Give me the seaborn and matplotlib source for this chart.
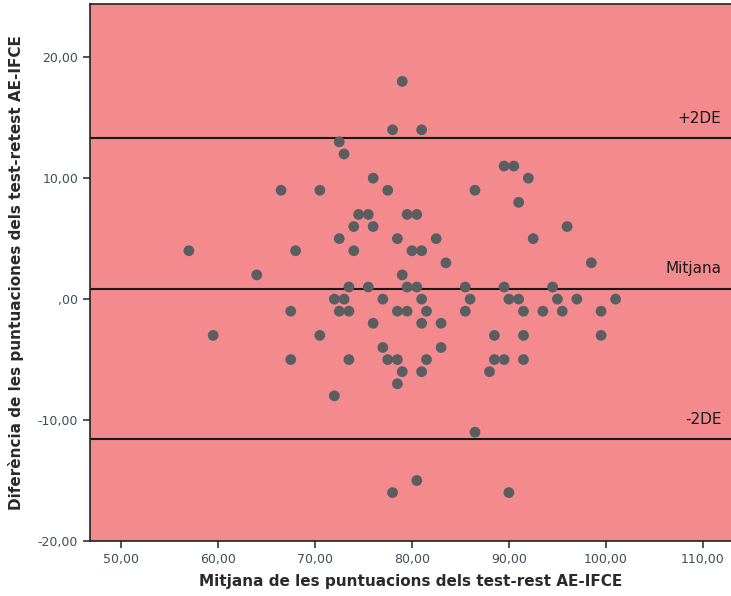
import matplotlib
matplotlib.use('Agg')
import matplotlib.pyplot as plt
import numpy as np
import pandas as pd
import seaborn as sns

# Bland-Altman points, grouped by difference value (y) -> list of means (x)
diff_values = [18, 14, 13, 12, 11, 10, 9, 8, 7, 6, 5, 4, 3, 2, 1, 0,
               -1, -2, -3, -4, -5, -6, -7, -8, -11, -15, -16]
mean_groups = [
    [79],
    [78, 81],
    [72.5],
    [73],
    [89.5, 90.5],
    [76, 92],
    [66.5, 70.5, 77.5, 86.5],
    [91],
    [74.5, 75.5, 79.5, 80.5],
    [74, 76, 96],
    [72.5, 78.5, 82.5, 92.5],
    [57, 68, 74, 80, 81],
    [83.5, 98.5],
    [64, 79],
    [73.5, 75.5, 79.5, 80.5, 85.5, 89.5, 94.5],
    [72, 73, 77, 81, 86, 90, 91, 95, 97, 101],
    [67.5, 72.5, 73.5, 78.5, 79.5, 81.5, 85.5, 91.5, 93.5, 95.5, 99.5],
    [76, 81, 83],
    [59.5, 70.5, 88.5, 91.5, 99.5],
    [77, 83],
    [67.5, 73.5, 77.5, 78.5, 81.5, 88.5, 89.5, 91.5],
    [79, 81, 88],
    [78.5],
    [72],
    [86.5],
    [80.5],
    [78, 90],
]

mean_diff = 0.87
upper_loa = 13.33
lower_loa = -11.6

x_ticks = [50, 60, 70, 80, 90, 100, 110]
y_ticks = [-20, -10, 0, 10, 20]


def fmt(v):
    s = f"{v:.2f}".replace(".", ",")
    if s.startswith("0,"):
        s = s[1:]
    return s


rows = [(x, y) for y, xs in zip(diff_values, mean_groups) for x in xs]
df = pd.DataFrame(rows, columns=["mitjana", "diferencia"])

sns.set_theme(style="ticks")
plt.rcParams['font.family'] = ['DejaVu Sans']
plt.rcParams['axes.unicode_minus'] = False

fig = plt.figure(figsize=(7.31, 5.96), dpi=100)
ax = fig.add_axes([90 / 731, 55 / 596, 641 / 731, 537 / 596])
ax.set_facecolor("#f28a8e")

sns.scatterplot(data=df, x="mitjana", y="diferencia", ax=ax,
                color="#5a5e61", s=60, edgecolor="none", zorder=3)

for yv in (upper_loa, mean_diff, lower_loa):
    ax.axhline(yv, color="#1a1a1a", lw=1.5, zorder=2)

trans = ax.get_yaxis_transform()
ax.text(0.985, upper_loa + 1.0, "+2DE", transform=trans,
        ha="right", va="bottom", fontsize=11, color="#1a1a1a")
ax.text(0.985, mean_diff + 1.0, "Mitjana", transform=trans,
        ha="right", va="bottom", fontsize=11, color="#1a1a1a")
ax.text(0.985, lower_loa + 1.0, "-2DE", transform=trans,
        ha="right", va="bottom", fontsize=11, color="#1a1a1a")

ax.set_xlim(46.8, 112.9)
ax.set_ylim(-20, 24.4)
ax.set_xticks(x_ticks)
ax.set_xticklabels([fmt(v) for v in x_ticks])
ax.set_yticks(y_ticks)
ax.set_yticklabels([fmt(v) for v in y_ticks])
ax.tick_params(labelsize=9, colors="#2e3a40", length=5, width=1.2)
for lbl in ax.get_xticklabels() + ax.get_yticklabels():
    lbl.set_color("#3c4f5a")

for side in ("left", "bottom", "top"):
    ax.spines[side].set_color("#222222")
    ax.spines[side].set_linewidth(1.2)
ax.spines["right"].set_visible(False)

ax.set_xlabel("Mitjana de les puntuacions dels test-rest AE-IFCE",
              fontsize=11, fontweight="bold", color="#2a2a2a", labelpad=6)
ax.set_ylabel("Diferència de les puntuaciones dels test-retest AE-IFCE",
              fontsize=11, fontweight="bold", color="#2a2a2a", labelpad=10)

fig.savefig("out.png", dpi=100)
